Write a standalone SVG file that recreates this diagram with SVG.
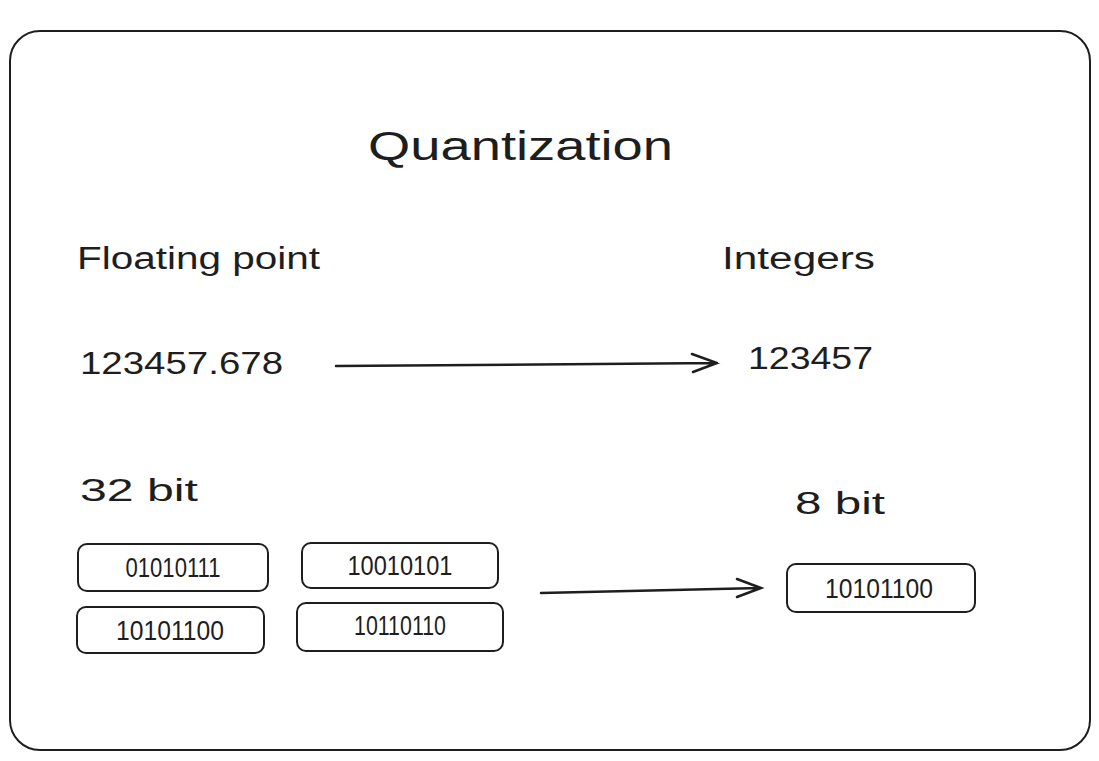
<svg xmlns="http://www.w3.org/2000/svg" width="1099" height="761" viewBox="0 0 1099 761">
<style>
.frame{fill:#fff;stroke:#1e1e1e;stroke-width:2}
.box{fill:none;stroke:#1e1e1e;stroke-width:2}
text{font-family:"Liberation Sans",Arial,sans-serif;fill:#1e1e1e}
.t{font-size:31px}
.b{font-size:27px;text-anchor:middle}
.conn{stroke:#1e1e1e;stroke-width:2.5;fill:none;stroke-linecap:round}
</style>
<rect width="1099" height="761" fill="#fff"/>
<g id="frame"><rect class="frame" x="10" y="31" width="1080" height="719" rx="30"/></g>
<g id="title"><text x="368" y="160" font-size="41" textLength="305" lengthAdjust="spacingAndGlyphs">Quantization</text></g>
<g id="floating"><text class="t" x="77" y="269" textLength="243" lengthAdjust="spacingAndGlyphs">Floating point</text></g>
<g id="integers"><text class="t" x="722" y="269" textLength="153" lengthAdjust="spacingAndGlyphs">Integers</text></g>
<g id="float-val"><text class="t" x="80" y="374" textLength="203" lengthAdjust="spacingAndGlyphs">123457.678</text></g>
<g id="int-val"><text class="t" x="748" y="369" textLength="125" lengthAdjust="spacingAndGlyphs">123457</text></g>
<g id="bit32"><text class="t" x="80" y="501" textLength="118" lengthAdjust="spacingAndGlyphs">32 bit</text></g>
<g id="bit8"><text class="t" x="795" y="514" textLength="90" lengthAdjust="spacingAndGlyphs">8 bit</text></g>
<g id="box1"><rect class="box" x="78" y="544" width="190" height="47" rx="9"/><text class="b" x="173" y="577" textLength="95" lengthAdjust="spacingAndGlyphs">01010111</text></g>
<g id="box2"><rect class="box" x="302" y="543" width="196" height="45" rx="9"/><text class="b" x="400" y="575" textLength="105" lengthAdjust="spacingAndGlyphs">10010101</text></g>
<g id="box3"><rect class="box" x="77" y="607" width="187" height="46" rx="9"/><text class="b" x="170" y="640" textLength="108" lengthAdjust="spacingAndGlyphs">10101100</text></g>
<g id="box4"><rect class="box" x="297" y="603" width="206" height="48" rx="9"/><text class="b" x="400" y="635" textLength="92" lengthAdjust="spacingAndGlyphs">10110110</text></g>
<g id="box5"><rect class="box" x="787" y="564" width="188" height="48" rx="9"/><text class="b" x="879" y="598" textLength="108" lengthAdjust="spacingAndGlyphs">10101100</text></g>
<g id="connectors">
<path class="conn" d="M336 366 L717 363 M692 354 L717 363 L693 372"/>
<path class="conn" d="M541 593 L761 588 M737 579 L761 588 L737 597"/>
</g>
</svg>
